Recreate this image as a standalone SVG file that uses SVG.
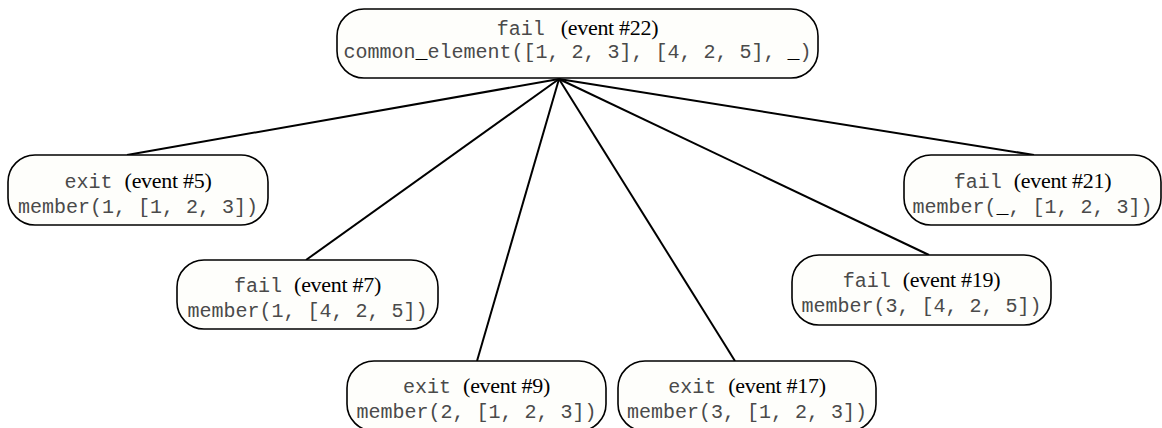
<svg xmlns="http://www.w3.org/2000/svg" width="1162" height="428" viewBox="0 0 1162 428">
  <style>
    .node rect { fill: #fefefb; stroke: #000; stroke-width: 1.6; }
    text { text-anchor: middle; white-space: pre; }
    .mono { font-family: "Liberation Mono", "Courier New", monospace; font-size: 20px; fill: #4a4a4a; }
    .serif { font-family: "Liberation Serif", "Times New Roman", serif; font-size: 22px; fill: #000; letter-spacing: -0.3px; }
    .us { fill: #000; font-weight: bold; }
    .edges line { stroke: #000; stroke-width: 2; }
  </style>
  <rect width="1162" height="428" fill="#fff"/>

  <!-- call tree: parent goal linked to each subgoal event -->
  <g id="edges" class="edges">
    <line x1="559" y1="79" x2="127" y2="155"/>
    <line x1="559" y1="79" x2="306" y2="260"/>
    <line x1="559" y1="79" x2="477" y2="361"/>
    <line x1="559" y1="79" x2="735" y2="361"/>
    <line x1="559" y1="79" x2="929" y2="255"/>
    <line x1="559" y1="79" x2="1034" y2="155"/>
  </g>

  <g id="event22" class="node">
    <rect x="337" y="9" width="481" height="69" rx="27"/>
    <text x="577.5" y="35"><tspan class="mono">fail </tspan><tspan class="serif" dx="4">(event #22)</tspan></text>
    <text x="577.5" y="58" class="mono">common<tspan class="us">_</tspan>element([1, 2, 3], [4, 2, 5], <tspan class="us">_</tspan>)</text>
  </g>

  <g id="event5" class="node">
    <rect x="8" y="155" width="260" height="70" rx="27"/>
    <text x="138" y="188"><tspan class="mono">exit </tspan><tspan class="serif">(event #5)</tspan></text>
    <text x="138" y="213" class="mono">member(1, [1, 2, 3])</text>
  </g>

  <g id="event7" class="node">
    <rect x="177" y="260" width="261" height="69" rx="27"/>
    <text x="307.5" y="292"><tspan class="mono">fail </tspan><tspan class="serif">(event #7)</tspan></text>
    <text x="307.5" y="317" class="mono">member(1, [4, 2, 5])</text>
  </g>

  <g id="event9" class="node">
    <rect x="347" y="361" width="259" height="70" rx="27"/>
    <text x="476.5" y="393"><tspan class="mono">exit </tspan><tspan class="serif">(event #9)</tspan></text>
    <text x="476.5" y="418" class="mono">member(2, [1, 2, 3])</text>
  </g>

  <g id="event17" class="node">
    <rect x="618" y="361" width="258" height="70" rx="27"/>
    <text x="747" y="393"><tspan class="mono">exit </tspan><tspan class="serif">(event #17)</tspan></text>
    <text x="747" y="418" class="mono">member(3, [1, 2, 3])</text>
  </g>

  <g id="event19" class="node">
    <rect x="792" y="255" width="259" height="70" rx="27"/>
    <text x="921.5" y="287"><tspan class="mono">fail </tspan><tspan class="serif">(event #19)</tspan></text>
    <text x="921.5" y="312" class="mono">member(3, [4, 2, 5])</text>
  </g>

  <g id="event21" class="node">
    <rect x="904" y="155" width="257" height="70" rx="27"/>
    <text x="1032.5" y="188"><tspan class="mono">fail </tspan><tspan class="serif">(event #21)</tspan></text>
    <text x="1032.5" y="213" class="mono">member(<tspan class="us">_</tspan>, [1, 2, 3])</text>
  </g>
</svg>
